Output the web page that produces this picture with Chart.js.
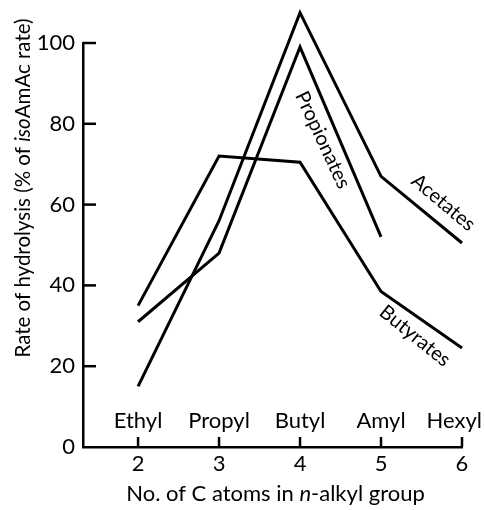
<!DOCTYPE html>
<html>
<head>
<meta charset="utf-8">
<script src="https://cdn.jsdelivr.net/npm/chart.js@4"></script>
<style>
  html, body { margin: 0; padding: 0; background: #fff; }
  canvas { display: block; }
</style>
</head>
<body>
<canvas id="hydro" width="484" height="510"></canvas>
<script>
// data
const carbonAtoms = [2, 3, 4, 5, 6];
const groupNames = ['Ethyl', 'Propyl', 'Butyl', 'Amyl', 'Hexyl'];
const acetates = [15, 56, 107.5, 67, 50.5];
const propionates = [31, 48, 99, 52];
const butyrates = [35, 72, 70.5, 38.5, 24.5];
const yTicks = [0, 20, 40, 60, 80, 100];

const FONT = 'Lato, "Open Sans", sans-serif';

// labels that sit along each curve (value coords + angle)
const curveLabels = [
  { text: 'Acetates', x: 5.77, y: 60.5, angle: 40 },
  { text: 'Propionates', x: 4.28, y: 76, angle: 65 },
  { text: 'Butyrates', x: 5.42, y: 27.5, angle: 39 }
];

function pts(vals) {
  return vals.map((v, i) => ({ x: carbonAtoms[i], y: v }));
}

function drawMixed(ctx, parts, size) {
  let w = 0;
  parts.forEach(p => {
    ctx.font = (p[1] ? 'italic ' : '') + size + 'px ' + FONT;
    w += ctx.measureText(p[0]).width;
  });
  let x = -w / 2;
  parts.forEach(p => {
    ctx.font = (p[1] ? 'italic ' : '') + size + 'px ' + FONT;
    ctx.fillText(p[0], x, 0);
    x += ctx.measureText(p[0]).width;
  });
}

const decor = {
  id: 'decor',
  afterDraw(chart) {
    const ctx = chart.ctx;
    const xs = chart.scales.x, ys = chart.scales.y;
    ctx.save();
    ctx.strokeStyle = '#000';
    ctx.fillStyle = '#000';
    ctx.lineWidth = 2.5;

    // inward tick marks
    carbonAtoms.forEach(v => {
      const px = xs.getPixelForValue(v);
      ctx.beginPath();
      ctx.moveTo(px, ys.bottom);
      ctx.lineTo(px, ys.bottom - 10);
      ctx.stroke();
    });
    yTicks.slice(1).forEach(v => {
      const py = ys.getPixelForValue(v);
      ctx.beginPath();
      ctx.moveTo(xs.left, py);
      ctx.lineTo(xs.left + 13, py);
      ctx.stroke();
    });

    // group names above the x axis
    ctx.font = '22px ' + FONT;
    ctx.textAlign = 'center';
    ctx.textBaseline = 'alphabetic';
    groupNames.forEach((n, i) => {
      const w = ctx.measureText(n).width;
      const px = Math.min(xs.getPixelForValue(carbonAtoms[i]), chart.width - 2 - w / 2);
      ctx.fillText(n, px, ys.bottom - 19);
    });

    // axis titles
    ctx.textAlign = 'left';
    ctx.textBaseline = 'middle';
    ctx.save();
    ctx.translate((xs.left + xs.right) / 2 + 3, 494);
    drawMixed(ctx, [['No. of C atoms in ', false], ['n', true], ['-alkyl group', false]], 22);
    ctx.restore();

    ctx.save();
    ctx.translate(23, 188);
    ctx.rotate(-Math.PI / 2);
    drawMixed(ctx, [['Rate of hydrolysis (% of ', false], ['iso', true], ['AmAc rate)', false]], 20.5);
    ctx.restore();

    // curve labels
    ctx.font = '20px ' + FONT;
    ctx.textAlign = 'center';
    curveLabels.forEach(l => {
      ctx.save();
      ctx.translate(xs.getPixelForValue(l.x), ys.getPixelForValue(l.y));
      ctx.rotate(l.angle * Math.PI / 180);
      ctx.fillText(l.text, 0, 0);
      ctx.restore();
    });
    ctx.restore();
  }
};

const lineStyle = {
  borderColor: '#000',
  borderWidth: 3,
  pointRadius: 0,
  fill: false,
  tension: 0,
  clip: false
};

new Chart(document.getElementById('hydro').getContext('2d'), {
  type: 'line',
  data: {
    datasets: [
      Object.assign({ label: 'Acetates', data: pts(acetates) }, lineStyle),
      Object.assign({ label: 'Propionates', data: pts(propionates) }, lineStyle),
      Object.assign({ label: 'Butyrates', data: pts(butyrates) }, lineStyle)
    ]
  },
  options: {
    responsive: false,
    animation: false,
    devicePixelRatio: 1,
    layout: { padding: { top: 43, right: 22, left: 0, bottom: 0 } },
    plugins: { legend: { display: false }, tooltip: { enabled: false } },
    scales: {
      x: {
        type: 'linear',
        min: 1.32,
        max: 6,
        afterFit: s => { s.height = 63; },
        afterBuildTicks: s => { s.ticks = carbonAtoms.map(v => ({ value: v })); },
        grid: { display: true, drawOnChartArea: false, drawTicks: false },
        border: { display: true, color: '#000', width: 2.5 },
        ticks: { color: '#000', padding: 4, font: { family: FONT, size: 22 }, maxRotation: 0 }
      },
      y: {
        min: 0,
        max: 100,
        afterFit: s => { s.width = 83; },
        afterBuildTicks: s => { s.ticks = yTicks.map(v => ({ value: v })); },
        grid: { display: true, drawOnChartArea: false, drawTicks: false },
        border: { display: true, color: '#000', width: 2.5 },
        ticks: { color: '#000', padding: 8, font: { family: FONT, size: 22 } }
      }
    }
  },
  plugins: [decor]
});
</script>
</body>
</html>
